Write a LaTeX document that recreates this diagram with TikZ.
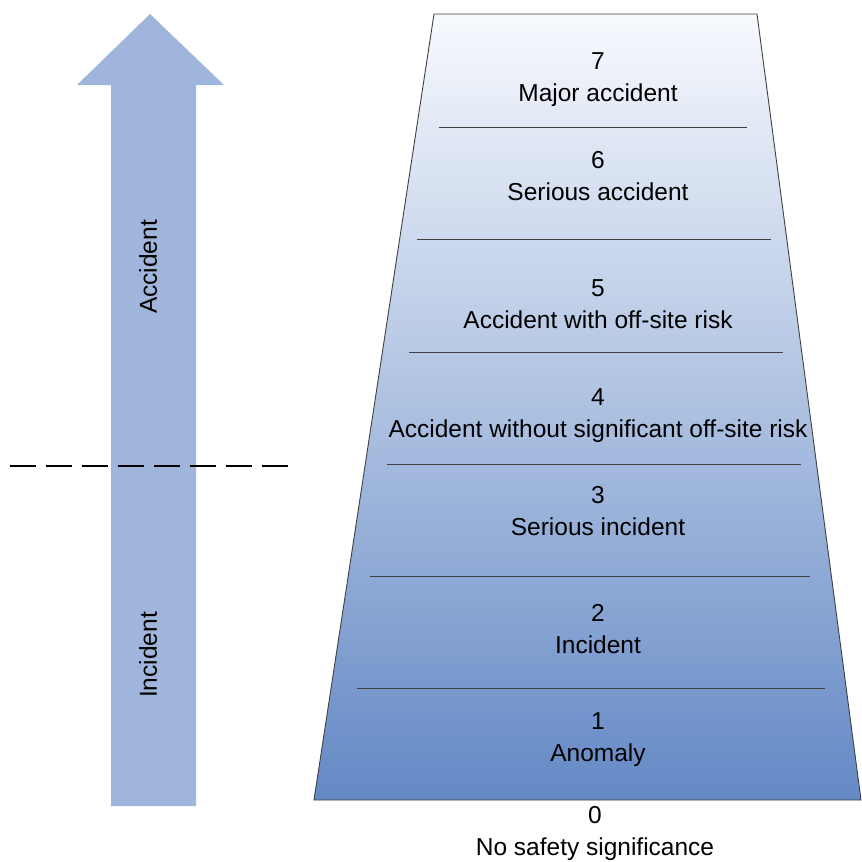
\documentclass[tikz,border=0pt]{standalone}
\usepackage{fontspec}
\setmainfont{Liberation Sans}
\begin{document}
\begin{tikzpicture}[x=1pt,y=-1pt,
  lvl/.style={align=center,font=\fontsize{24.5}{32}\selectfont,inner sep=0pt},
  sep/.style={draw=black!75,line width=0.8pt},
  arrowlbl/.style={rotate=90,font=\fontsize{24.5}{28}\selectfont,inner sep=0pt}]
\definecolor{arrowblue}{HTML}{A0B5DB}
\definecolor{topc}{HTML}{F7F9FD}
\definecolor{botc}{HTML}{6489C5}
\useasboundingbox (0,0) rectangle (862,862);
% arrow
\fill[arrowblue] (150,14) -- (224,85) -- (196,85) -- (196,806) -- (111,806) -- (111,85) -- (77,85) -- cycle;
\node[arrowlbl] (acc) at (148,267) {Accident};
\node[arrowlbl] (inc) at (148,655) {Incident};
% dashed
\coordinate (dl) at (10,466);
\coordinate (dr) at (288,466);
\draw[line width=2.4pt,dash pattern=on 26pt off 10pt] (dl) -- (dr);
% trapezoid
\coordinate (tl) at (434,14);
\coordinate (tr) at (757,14);
\coordinate (br) at (861,800);
\coordinate (bl) at (314,800);
\shade[top color=topc,bottom color=botc] (tl) -- (tr) -- (br) -- (bl) -- cycle;
\draw[draw=black!75,line width=0.9pt] (tl) -- (tr) -- (br) -- (bl) -- cycle;
% separators
\draw[sep] (439,127) -- (747,127);
\draw[sep] (417,239) -- (771,239);
\draw[sep] (409,352) -- (783,352);
\draw[sep] (387,464) -- (801,464);
\draw[sep] (370,576) -- (810,576);
\draw[sep] (357,688) -- (825,688);
% labels
\node[lvl] (l7) at (598,80) {7\\Major accident};
\node[lvl] (l6) at (598,176) {6\\Serious accident};
\node[lvl] (l5) at (598,304) {5\\Accident with off-site risk};
\node[lvl] (l4) at (598,416) {4\\Accident without significant off-site risk};
\node[lvl] (l3) at (598,511) {3\\Serious incident};
\node[lvl] (l2) at (598,629) {2\\Incident};
\node[lvl] (l1) at (598,740) {1\\Anomaly};
\node[lvl] (l0) at (595,833) {0\\No safety significance};
\end{tikzpicture}
\end{document}
